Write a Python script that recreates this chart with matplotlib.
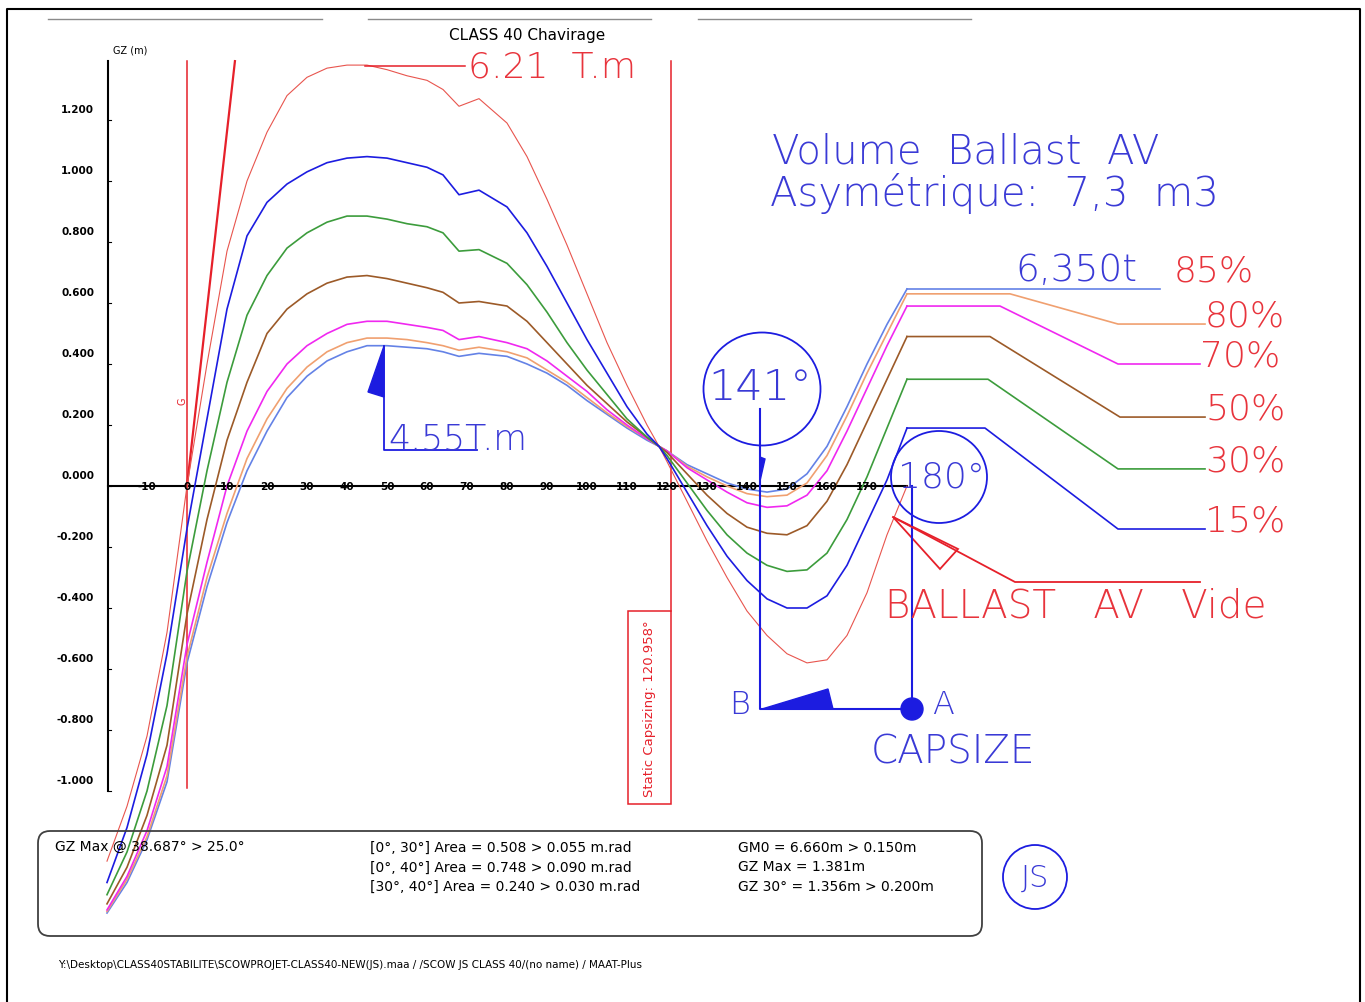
import numpy as np
import matplotlib.pyplot as plt
from matplotlib.patches import Ellipse, Circle, Polygon, Rectangle, FancyBboxPatch

# heel angles (deg) and GZ (m)
angles = [-20, -15, -10, -5, 0, 5, 10, 15, 20, 25, 30, 35, 40, 45, 50, 55, 60, 64, 68, 73,
          80, 85, 90, 95, 100, 105, 110, 115, 118, 120, 125, 130, 135, 140, 145, 150, 155,
          160, 165, 170, 175, 180]

gz_vide = [-1.23, -1.05, -0.82, -0.48, 0.00, 0.40, 0.77, 1.00, 1.16, 1.28, 1.34, 1.37, 1.38,
           1.38, 1.365, 1.345, 1.33, 1.30, 1.245, 1.27, 1.19, 1.08, 0.94, 0.79, 0.63, 0.47,
           0.33, 0.20, 0.13, 0.08, -0.05, -0.18, -0.30, -0.41, -0.49, -0.55, -0.58, -0.57,
           -0.49, -0.35, -0.16, 0.00]
gz_15 = [-1.30, -1.12, -0.88, -0.55, -0.14, 0.22, 0.58, 0.82, 0.93, 0.99, 1.03, 1.06, 1.075,
         1.08, 1.075, 1.06, 1.045, 1.02, 0.955, 0.97, 0.915, 0.83, 0.72, 0.60, 0.48, 0.37,
         0.26, 0.17, 0.13, 0.09, -0.02, -0.13, -0.23, -0.31, -0.37, -0.40, -0.40, -0.36,
         -0.26, -0.12, 0.02, 0.19]
gz_30 = [-1.34, -1.20, -1.00, -0.72, -0.28, 0.05, 0.34, 0.56, 0.69, 0.78, 0.83, 0.865, 0.885,
         0.885, 0.875, 0.86, 0.85, 0.83, 0.77, 0.775, 0.73, 0.66, 0.57, 0.47, 0.38, 0.30,
         0.22, 0.16, 0.13, 0.10, 0.01, -0.08, -0.16, -0.22, -0.26, -0.28, -0.275, -0.22,
         -0.11, 0.03, 0.19, 0.35]
gz_50 = [-1.37, -1.25, -1.08, -0.85, -0.42, -0.11, 0.15, 0.34, 0.50, 0.58, 0.63, 0.665, 0.685,
         0.69, 0.68, 0.665, 0.65, 0.635, 0.60, 0.605, 0.59, 0.54, 0.47, 0.40, 0.33, 0.27,
         0.21, 0.16, 0.13, 0.11, 0.04, -0.03, -0.09, -0.135, -0.155, -0.16, -0.13, -0.05,
         0.07, 0.21, 0.35, 0.49]
gz_70 = [-1.39, -1.28, -1.13, -0.92, -0.52, -0.25, 0.00, 0.18, 0.31, 0.40, 0.46, 0.50, 0.53,
         0.54, 0.54, 0.53, 0.52, 0.51, 0.48, 0.49, 0.47, 0.45, 0.41, 0.36, 0.31, 0.25,
         0.20, 0.155, 0.13, 0.115, 0.06, 0.02, -0.02, -0.055, -0.07, -0.065, -0.03, 0.05,
         0.18, 0.32, 0.46, 0.59]
gz_80 = [-1.395, -1.29, -1.15, -0.95, -0.56, -0.30, -0.09, 0.09, 0.22, 0.32, 0.39, 0.44, 0.47,
         0.485, 0.485, 0.48, 0.47, 0.46, 0.445, 0.455, 0.44, 0.42, 0.38, 0.34, 0.29, 0.24,
         0.195, 0.155, 0.13, 0.115, 0.065, 0.03, 0.00, -0.025, -0.035, -0.03, 0.01, 0.10,
         0.23, 0.37, 0.50, 0.63]
gz_85 = [-1.40, -1.30, -1.16, -0.97, -0.58, -0.33, -0.12, 0.05, 0.18, 0.29, 0.36, 0.41, 0.44,
         0.46, 0.46, 0.455, 0.45, 0.44, 0.425, 0.435, 0.425, 0.40, 0.37, 0.33, 0.28, 0.235,
         0.19, 0.15, 0.13, 0.115, 0.07, 0.04, 0.01, -0.01, -0.02, -0.01, 0.04, 0.13,
         0.26, 0.40, 0.53, 0.646]

ballast_labels = ['85%', '80%', '70%', '50%', '30%', '15%']
ballast_curves = [gz_85, gz_80, gz_70, gz_50, gz_30, gz_15]

ytick_vals = [1.2, 1.0, 0.8, 0.6, 0.4, 0.2, 0.0, -0.2, -0.4, -0.6, -0.8, -1.0]
ytick_labels = ['1.200', '1.000', '0.800', '0.600', '0.400', '0.200', '0.000',
                '-0.200', '-0.400', '-0.600', '-0.800', '-1.000']
xtick_vals = list(range(-10, 180, 10))

gm0 = 6.660
static_capsize = 120.958

RED = '#e6202a'
VIDE = '#e8554e'
BLUE = '#1c1ce0'
TXTBLUE = '#3a3ad6'
TXTRED = '#e8343c'
colors = ['#6482e6', '#f0a070', '#f028f0', '#9c5a28', '#3c9c3c', BLUE]

SANS = ['DejaVu Sans']
CAD = ['DejaVu Sans']

# leader lines from the 180 deg ends to the labels on the right
lead_flat_end = [243.25, 205.75, 203.25, 200.75, 200.25, 199.5]
lead_drop_end = [243.25, 232.75, 232.75, 233.25, 232.75, 232.75]
lead_level = [0.646, 0.531, 0.40, 0.226, 0.056, -0.141]
lead_tail_end = [243.25, 254.5, 253.25, 254.5, 254.5, 254.5]

fig = plt.figure(figsize=(13.65, 10.03), dpi=100)
ax = fig.add_axes([0, 0, 1, 1])
ax.set_xlim(-46.75, 294.5)
ax.set_ylim(-1.6918, 1.5967)
ax.axis('off')

# axes of the GZ diagram
ax.plot([-19.75, 180], [0, 0], color='k', lw=1.5)
ax.plot([-19.75, -19.75], [-1.0, 1.393], color='k', lw=1.5)
for v, lab in zip(ytick_vals, ytick_labels):
    ax.plot([-19.75, -18.9], [v, v], color='k', lw=0.8)
    ax.text(-23.2, v + 0.035, lab, ha='right', va='center', fontsize=7.5,
            fontweight='bold', family=SANS)
for a in xtick_vals:
    ax.text(a, 0, str(a), ha='center', va='center', fontsize=7.5, fontweight='bold',
            family=SANS)

# GM tangent, 0 deg and static capsizing verticals
top = 1.393
ax.plot([0, top / (gm0 * np.pi / 180)], [0, top], color=RED, lw=1.6)
ax.plot([0, 0], [-0.99, top], color=RED, lw=1.1)
ax.plot([static_capsize, static_capsize], [-0.41, top], color=RED, lw=1.1)
ax.add_patch(Rectangle((static_capsize - 10.75, -1.043), 10.75, 0.633, fill=False,
                       ec=RED, lw=1.1))
ax.text(static_capsize - 5.4, -0.726, 'Static Capsizing: 120.958°', rotation=90,
        ha='center', va='center', color=RED, fontsize=9.5, family=SANS)
ax.text(-1.2, 0.28, 'G', rotation=90, ha='center', va='center', color=RED, fontsize=7)

# curves
ax.plot(angles, gz_vide, color=VIDE, lw=0.8)
for gz, col in zip(ballast_curves, colors):
    ax.plot(angles, gz, color=col, lw=1.2)

for i, (gz, col) in enumerate(zip(ballast_curves, colors)):
    xs = [angles[-1], lead_flat_end[i], lead_drop_end[i], lead_tail_end[i]]
    ys = [gz[-1], gz[-1], lead_level[i], lead_level[i]]
    ax.plot(xs, ys, color=col, lw=1.2)
    if i > 0:
        ax.text(lead_tail_end[i], lead_level[i] - 0.005, ballast_labels[i], ha='left',
                va='baseline', color=TXTRED, fontsize=26, family=CAD, fontweight=200)
ax.text(246.75, 0.675, ballast_labels[0], ha='left', va='baseline', color=TXTRED,
        fontsize=26, family=CAD, fontweight=200)
ax.text(207, 0.675, '6,350t', ha='left', va='baseline', color=TXTBLUE, fontsize=27,
        family=CAD, fontweight=200)

# drawing-space decorations (pixel coordinates)
dk = fig.add_axes([0, 0, 1, 1])
dk.set_xlim(0, 1365)
dk.set_ylim(1003, 0)
dk.axis('off')

dk.plot([7, 7, 1360, 1360], [1003, 10, 10, 1003], color='k', lw=1.5)
for x0, x1 in [(48, 322), (368, 651), (698, 971)]:
    dk.plot([x0, x1], [20, 20], color='#8a8a8a', lw=1)
dk.text(527, 35, 'CLASS 40 Chavirage', ha='center', va='center', fontsize=11,
        family=SANS)
dk.text(130, 50, 'GZ (m)', ha='center', va='center', fontsize=7, family=SANS)

# 6.21 T.m
dk.plot([365, 465], [67, 67], color=RED, lw=1.1)
dk.text(468, 67, '6.21  T.m', ha='left', va='center', color=TXTRED, fontsize=26,
        family=CAD, fontweight=200)

# 4.55 T.m
dk.plot([384, 384, 477], [347, 451, 451], color=BLUE, lw=1.3)
dk.add_patch(Polygon([(384, 347), (384, 398), (368, 393)], closed=True, color=BLUE))
dk.text(388, 449, '4.55T.m', ha='left', va='baseline', color=TXTBLUE, fontsize=25,
        family=CAD, fontweight=200)

dk.text(772, 152, 'Volume  Ballast  AV', ha='left', va='center', color=TXTBLUE,
        fontsize=29, family=CAD, fontweight=200)
dk.text(770, 193, 'Asymétrique:  7,3  m3', ha='left', va='center', color=TXTBLUE,
        fontsize=29, family=CAD, fontweight=200)

# 141 deg / 180 deg markers and capsize
dk.add_patch(Ellipse((762, 390), 117, 113, fill=False, ec=BLUE, lw=1.3))
dk.text(760, 388, '141°', ha='center', va='center', color=TXTBLUE, fontsize=31,
        family=CAD, fontweight=200)
dk.add_patch(Ellipse((939, 478), 96, 92, fill=False, ec=BLUE, lw=1.3))
dk.text(941, 478, '180°', ha='center', va='center', color=TXTBLUE, fontsize=26,
        family=CAD, fontweight=200)
dk.plot([760, 760, 912, 912], [410, 710, 710, 487], color=BLUE, lw=1.5)
dk.add_patch(Polygon([(760, 458), (765, 460), (760, 482)], closed=True, color=BLUE))
dk.add_patch(Polygon([(762, 710), (828, 690), (833, 710)], closed=True, color=BLUE))
dk.add_patch(Circle((912, 710), 11, color=BLUE))
dk.text(740, 705, 'B', ha='center', va='center', color=TXTBLUE, fontsize=23,
        family=CAD, fontweight=200)
dk.text(943, 705, 'A', ha='center', va='center', color=TXTBLUE, fontsize=23,
        family=CAD, fontweight=200)
dk.text(953, 753, 'CAPSIZE', ha='center', va='center', color=TXTBLUE, fontsize=28,
        family=CAD, fontweight=200)

# ballast AV vide
dk.plot([893, 1015, 1200], [518, 583, 583], color=RED, lw=1.3)
dk.add_patch(Polygon([(893, 518), (958, 550), (940, 570)], closed=True, fill=False,
                     ec=RED, lw=1.3))
dk.text(1076, 607, 'BALLAST   AV   Vide', ha='center', va='center', color=TXTRED,
        fontsize=28, family=CAD, fontweight=200)

# results box
dk.add_patch(FancyBboxPatch((38, 832), 944, 105, boxstyle='round,pad=0,rounding_size=12',
                            fill=False, ec='#404040', lw=1.3))
dk.text(55, 847, 'GZ Max @ 38.687° > 25.0°', ha='left', va='center', fontsize=10,
        family=SANS)
box_mid = ['[0°, 30°] Area = 0.508 > 0.055 m.rad',
           '[0°, 40°] Area = 0.748 > 0.090 m.rad',
           '[30°, 40°] Area = 0.240 > 0.030 m.rad']
box_right = ['GM0 = 6.660m > 0.150m', 'GZ Max = 1.381m', 'GZ 30° = 1.356m > 0.200m']
for k, (m, r) in enumerate(zip(box_mid, box_right)):
    dk.text(370, 848 + 19.5 * k, m, ha='left', va='center', fontsize=10, family=SANS)
    dk.text(738, 848 + 19.5 * k, r, ha='left', va='center', fontsize=10, family=SANS)

dk.add_patch(Ellipse((1035, 878), 64, 64, fill=False, ec=BLUE, lw=1.3))
dk.text(1035, 878, 'JS', ha='center', va='center', color=TXTBLUE, fontsize=22,
        family=CAD, fontweight=200)

dk.text(58, 965, 'Y:\\Desktop\\CLASS40STABILITE\\SCOWPROJET-CLASS40-NEW(JS).maa / '
        '/SCOW JS CLASS 40/(no name) / MAAT-Plus', ha='left', va='center', fontsize=7.5,
        family=SANS)

fig.savefig('out.png', dpi=100, facecolor='white')
